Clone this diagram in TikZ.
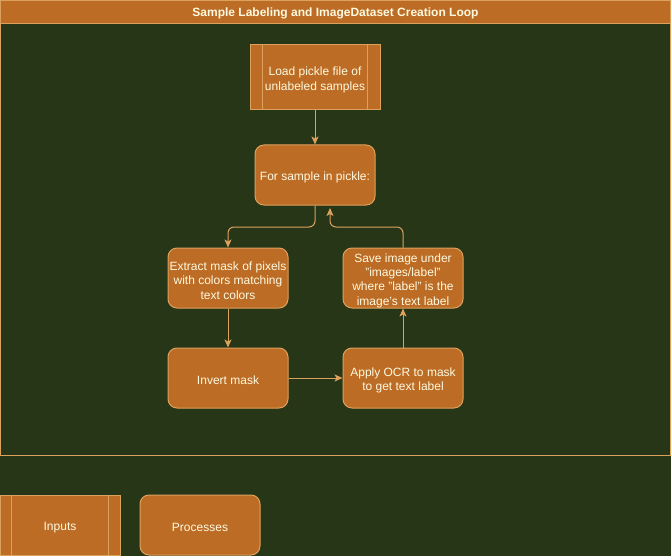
\documentclass[tikz,border=0pt]{standalone}
\usepackage{fontspec}
\setmainfont{Liberation Sans}
\usetikzlibrary{arrows.meta}
\definecolor{bg}{HTML}{283618}
\definecolor{boxfill}{HTML}{BC6C25}
\definecolor{boxline}{HTML}{DDA15E}
\definecolor{txt}{HTML}{FEFAE0}
\tikzset{
  boxtext/.style={text=txt, align=center, inner sep=0pt, yshift=-2.5pt,
    font=\fontsize{12}{14.4}\selectfont},
  proc/.style={draw=boxline, fill=boxfill, rounded corners=9pt, line width=1pt,
    minimum width=120pt, minimum height=60pt, inner sep=0pt},
  inp/.style={draw=boxline, fill=boxfill, line width=1pt,
    minimum width=130pt, minimum height=65pt, inner sep=0pt},
  conn/.style={draw=boxline, line width=1pt, rounded corners=6pt,
    -{Stealth[length=8pt,width=7pt,inset=2pt]}},
}
\begin{document}
\begin{tikzpicture}[x=1pt,y=-1pt]
\fill[bg] (0,0) rectangle (671,556);
\useasboundingbox (0,0) rectangle (671,556);
% container
\draw[boxline, line width=1pt] (0.5,0.5) rectangle (670.5,455);
\node[draw=boxline, fill=boxfill, line width=1pt, minimum width=670pt, minimum height=23pt, inner sep=0pt,
  text=txt, font=\bfseries\fontsize{12}{14}\selectfont, text depth=0pt, yshift=0pt] (title) at (335.5,12) {\raisebox{-1pt}{Sample Labeling and ImageDataset Creation Loop}};
% nodes
\node[inp, label={[boxtext]center:Load pickle file of\\unlabeled samples}] (load) at (315,77.5) {};
\draw[boxline, line width=1pt] ([xshift=13pt]load.north west) -- ([xshift=13pt]load.south west)
  ([xshift=-13pt]load.north east) -- ([xshift=-13pt]load.south east);
\node[proc, label={[boxtext]center:For sample in pickle:}] (loop) at (315,175) {};
\node[proc, label={[boxtext]center:Extract mask of pixels\\with colors matching\\text colors}] (extract) at (228,278) {};
\node[proc, label={[boxtext]center:Save image under\\\symbol{34}images/label\symbol{34}\\where \symbol{34}label\symbol{34} is the\\image\symbol{39}s text label}] (save) at (403,278) {};
\node[proc, label={[boxtext]center:Invert mask}] (invert) at (228,378) {};
\node[proc, label={[boxtext]center:Apply OCR to mask\\to get text label}] (ocr) at (403,378) {};
\coordinate (loopin) at (330,208);
% connectors
\draw[conn] (load) -- (loop);
\draw[conn] (loop.south) -- (315,227) -- (228,227) -- (extract.north);
\draw[conn] (save.north) -- (403,227) -- (330,227) -- (loopin);
\draw[conn] (extract) -- (invert);
\draw[conn] (invert) -- (ocr);
\draw[conn] (ocr) -- (save);
% legend
\node[inp, minimum width=120pt, minimum height=60pt, label={[boxtext]center:Inputs}] (inputs) at (60,525) {};
\draw[boxline, line width=1pt] ([xshift=12pt]inputs.north west) -- ([xshift=12pt]inputs.south west)
  ([xshift=-12pt]inputs.north east) -- ([xshift=-12pt]inputs.south east);
\node[proc, label={[boxtext]center:Processes}] (processes) at (200,525) {};
\end{tikzpicture}
\end{document}
